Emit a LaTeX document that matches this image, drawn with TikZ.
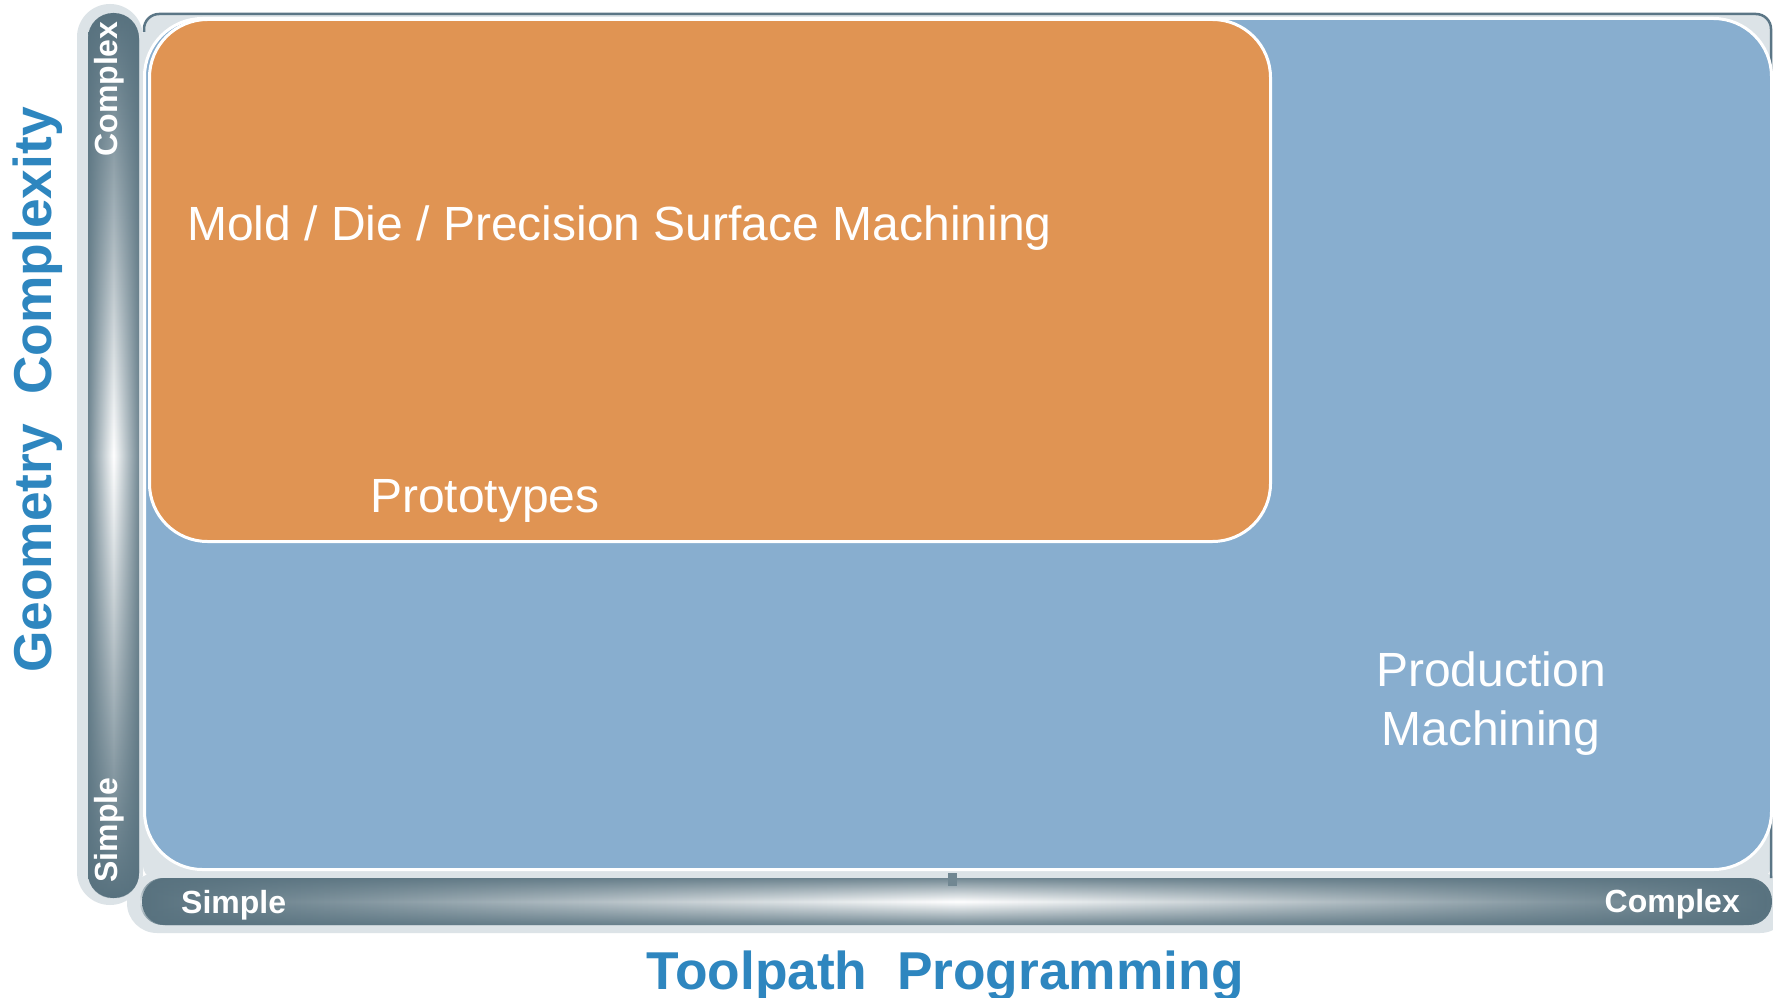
\documentclass[tikz,border=0pt]{standalone}
\usepackage{fontspec}
\setmainfont{Liberation Sans}
\usetikzlibrary{fadings}
\definecolor{orangefill}{HTML}{E09453}
\definecolor{bluefill}{HTML}{88AECF}
\definecolor{bardark}{HTML}{58727F}
\definecolor{framedark}{HTML}{5B7686}
\definecolor{framegray}{HTML}{DCE3E7}
\definecolor{titleblue}{HTML}{2E86BF}
\tikzfading[name=edgeh, left color=transparent!0, right color=transparent!0, middle color=transparent!100]
\tikzfading[name=edgev, top color=transparent!0, bottom color=transparent!0, middle color=transparent!100]
\tikzset{
  panel/.style={draw=white, line width=3pt},
  areatext/.style={text=white, font=\fontsize{48}{59}\selectfont, inner sep=0pt},
  bartext/.style={text=white, font=\fontsize{32}{38}\selectfont\bfseries, inner sep=0pt},
  axistitle/.style={text=titleblue, font=\fontsize{53.3}{60}\selectfont\bfseries, inner sep=0pt},
}
\begin{document}
\begin{tikzpicture}[x=1pt,y=-1pt]
\useasboundingbox[fill=white] (0,0) rectangle (1773,998);
% light gray frame pieces
\fill[framegray, rounded corners=33] (77,4) rectangle (143,905);
\fill[framegray, rounded corners=30] (127,873) rectangle (1790,933);
\fill[framegray, rounded corners=15] (143,14) rectangle (1771,880);
\draw[framedark, line width=2.5pt, rounded corners=15] (144,32) |- (1771,14) -- (1771,878);
% panels
\node[panel, fill=bluefill, rounded corners=58, minimum width=1627pt, minimum height=851pt, anchor=north west] (prodpanel) at (143,17) {};
\node[panel, fill=orangefill, rounded corners=58, minimum width=1121pt, minimum height=522pt, anchor=north west] (moldpanel) at (148,18) {};
% vertical axis bar
\path[shade, top color=bardark, bottom color=bardark, middle color=white, rounded corners=25] (88,13) rectangle (139,898);
\fill[bardark, path fading=edgeh, fill opacity=0.85, rounded corners=25] (88,13) rectangle (139,898);
% horizontal axis bar
\path[shade, left color=bardark, right color=bardark, middle color=white, rounded corners=23] (142,878) rectangle (1772,925);
\fill[bardark, path fading=edgev, fill opacity=0.85, rounded corners=23] (142,878) rectangle (1772,925);
\fill[bardark!85] (948,873) rectangle (957,886);
% texts
\node[areatext, anchor=base west] (mold) at (187,240) {Mold / Die / Precision Surface Machining};
\node[areatext, anchor=base west] (proto) at (370,512) {Prototypes};
\node[areatext, align=center, anchor=center] (prod) at (1491,704) {Production\\Machining};
\node[bartext, rotate=90] (vcomplex) at (109,89) {Complex};
\node[bartext, rotate=90] (vsimple) at (109,830) {Simple};
\node[bartext, anchor=base west] (hsimple) at (181,913) {Simple};
\node[bartext, anchor=base east] (hcomplex) at (1740,912) {Complex};
\node[axistitle, rotate=90] (ytitle) at (38,390) {Geometry\ \ Complexity};
\node[axistitle, anchor=base] (xtitle) at (945,989) {Toolpath\ \ Programming};
\end{tikzpicture}
\end{document}
